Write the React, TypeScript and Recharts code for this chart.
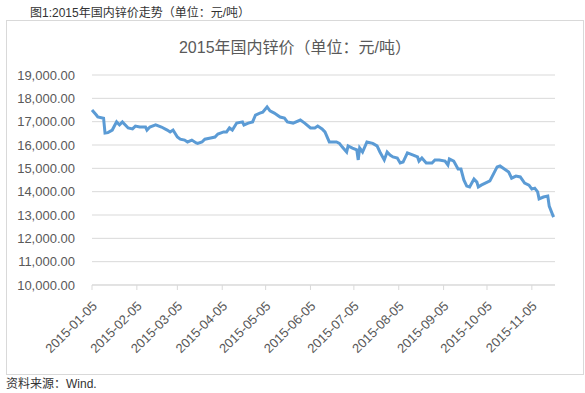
import { CartesianGrid, Line, LineChart, XAxis, YAxis } from "recharts";

// 2015 domestic zinc price (元/吨)
const dates = [
  "2015-01-05", "2015-01-08", "2015-01-09", "2015-01-13", "2015-01-14", "2015-01-16",
  "2015-01-19", "2015-01-22", "2015-01-24", "2015-01-26", "2015-01-30", "2015-02-02",
  "2015-02-04", "2015-02-07", "2015-02-11", "2015-02-12", "2015-02-14", "2015-02-18",
  "2015-02-22", "2015-02-26", "2015-02-28", "2015-03-02", "2015-03-05", "2015-03-07",
  "2015-03-10", "2015-03-12", "2015-03-15", "2015-03-18", "2015-03-19", "2015-03-22",
  "2015-03-24", "2015-03-28", "2015-03-31", "2015-04-02", "2015-04-06", "2015-04-08",
  "2015-04-10", "2015-04-12", "2015-04-15", "2015-04-19", "2015-04-20", "2015-04-23",
  "2015-04-26", "2015-04-28", "2015-05-01", "2015-05-03", "2015-05-06", "2015-05-08",
  "2015-05-11", "2015-05-15", "2015-05-18", "2015-05-20", "2015-05-24", "2015-05-29",
  "2015-06-01", "2015-06-05", "2015-06-08", "2015-06-10", "2015-06-13", "2015-06-15",
  "2015-06-18", "2015-06-23", "2015-06-25", "2015-06-27", "2015-06-30", "2015-07-01",
  "2015-07-04", "2015-07-07", "2015-07-08", "2015-07-09", "2015-07-11", "2015-07-14",
  "2015-07-18", "2015-07-21", "2015-07-23", "2015-07-26", "2015-07-28", "2015-07-30",
  "2015-08-01", "2015-08-04", "2015-08-06", "2015-08-08", "2015-08-11", "2015-08-15",
  "2015-08-18", "2015-08-19", "2015-08-21", "2015-08-24", "2015-08-28", "2015-08-30",
  "2015-09-02", "2015-09-06", "2015-09-08", "2015-09-09", "2015-09-12", "2015-09-15",
  "2015-09-17", "2015-09-19", "2015-09-21", "2015-09-23", "2015-09-26", "2015-09-28",
  "2015-09-29", "2015-10-01", "2015-10-07", "2015-10-12", "2015-10-14", "2015-10-17",
  "2015-10-20", "2015-10-22", "2015-10-25", "2015-10-28", "2015-10-31", "2015-11-03",
  "2015-11-05", "2015-11-07", "2015-11-09", "2015-11-10", "2015-11-13", "2015-11-16",
  "2015-11-17", "2015-11-20",
];

const prices = [
  17500, 17285, 17200, 17150, 16510, 16530,
  16640, 16990, 16860, 16990, 16730, 16690,
  16810, 16770, 16770, 16640, 16770, 16860,
  16770, 16640, 16560, 16640, 16340, 16250,
  16210, 16130, 16210, 16090, 16070, 16130,
  16250, 16300, 16340, 16470, 16560, 16560,
  16730, 16640, 16940, 16990, 16860, 16940,
  16990, 17285, 17370, 17410, 17630, 17460,
  17370, 17200, 17150, 16990, 16940, 17070,
  16940, 16730, 16730, 16810, 16690, 16560,
  16130, 16130, 16070, 15910, 15700, 15960,
  15870, 15790, 15360, 15870, 15700, 16130,
  16070, 15960, 15700, 15360, 15700, 15570,
  15490, 15440, 15230, 15270, 15660, 15570,
  15490, 15310, 15440, 15230, 15230, 15360,
  15360, 15310, 15140, 15400, 15310, 14970,
  14970, 14500, 14240, 14200, 14540, 14410,
  14200, 14280, 14460, 15060, 15100, 14970,
  14840, 14580, 14670, 14630, 14370, 14280,
  14110, 14150, 13990, 13690, 13770, 13810,
  13380, 12910,
];

const tickDates = [
  "2015-01-05", "2015-02-05", "2015-03-05", "2015-04-05", "2015-05-05", "2015-06-05",
  "2015-07-05", "2015-08-05", "2015-09-05", "2015-10-05", "2015-11-05",
];

const yTicks = [10000, 11000, 12000, 13000, 14000, 15000, 16000, 17000, 18000, 19000];

const DAY = 86400000;
const start = Date.UTC(2015, 0, 5);
const toDay = (s: string) => {
  const [y, m, d] = s.split("-").map(Number);
  return Math.round((Date.UTC(y, m - 1, d) - start) / DAY);
};

const chartData = dates.map((d, i) => ({ day: toDay(d), price: prices[i] }));
const xTicks = tickDates.map(toDay);

const font = '"Liberation Sans", "Noto Sans CJK SC", sans-serif';
const grey = "#595959";

const fmtDay = (day: number) => {
  const dt = new Date(start + day * DAY);
  const mm = String(dt.getUTCMonth() + 1).padStart(2, "0");
  const dd = String(dt.getUTCDate()).padStart(2, "0");
  return `${dt.getUTCFullYear()}-${mm}-${dd}`;
};

const DateTick = (props: any) => {
  const { x, y, payload } = props;
  return (
    <g transform={`translate(${x + 3},${y + 12})`}>
      <text
        transform="rotate(-45)"
        textAnchor="end"
        dy={4}
        fill={grey}
        fontSize={13}
        fontFamily={font}
      >
        {fmtDay(payload.value)}
      </text>
    </g>
  );
};

export default function App() {
  return (
    <div
      style={{
        position: "absolute",
        left: 0,
        top: 0,
        width: 585,
        height: 393,
        background: "#fff",
        fontFamily: font,
      }}
    >
      <div style={{ position: "absolute", left: 30, top: 3, fontSize: 12, color: "#333", whiteSpace: "nowrap" }}>
        图1:2015年国内锌价走势（单位：元/吨）
      </div>

      <div
        style={{
          position: "absolute",
          left: 6,
          top: 20,
          width: 578,
          height: 355,
          border: "1px solid #d9d9d9",
          boxSizing: "border-box",
        }}
      >
        <div
          style={{
            position: "absolute",
            left: 0,
            right: 0,
            top: 13,
            textAlign: "center",
            fontSize: 16,
            color: grey,
            whiteSpace: "nowrap",
          }}
        >
          2015年国内锌价（单位：元/吨）
        </div>

        <LineChart
          width={576}
          height={353}
          data={chartData}
          margin={{ top: 54, right: 28, left: 0, bottom: 0 }}
        >
          <CartesianGrid horizontal vertical={false} stroke="#d9d9d9" />
          <XAxis
            dataKey="day"
            type="number"
            domain={[0, 320]}
            ticks={xTicks}
            interval={0}
            height={89}
            stroke="#d9d9d9"
            tickSize={5}
            tick={<DateTick />}
          />
          <YAxis
            domain={[10000, 19000]}
            ticks={yTicks}
            width={85}
            axisLine={false}
            tickLine={false}
            tickSize={0}
            tickMargin={17}
            tick={{ fill: grey, fontSize: 13, fontFamily: font }}
            tickFormatter={(v: number) =>
              v.toLocaleString("en-US", { minimumFractionDigits: 2, maximumFractionDigits: 2 })
            }
          />
          <Line
            type="linear"
            dataKey="price"
            stroke="#5b9bd5"
            strokeWidth={3}
            dot={false}
            isAnimationActive={false}
          />
        </LineChart>
      </div>

      <div style={{ position: "absolute", left: 6, top: 374, fontSize: 12, color: "#333", whiteSpace: "nowrap" }}>
        资料来源：Wind.
      </div>
    </div>
  );
}
